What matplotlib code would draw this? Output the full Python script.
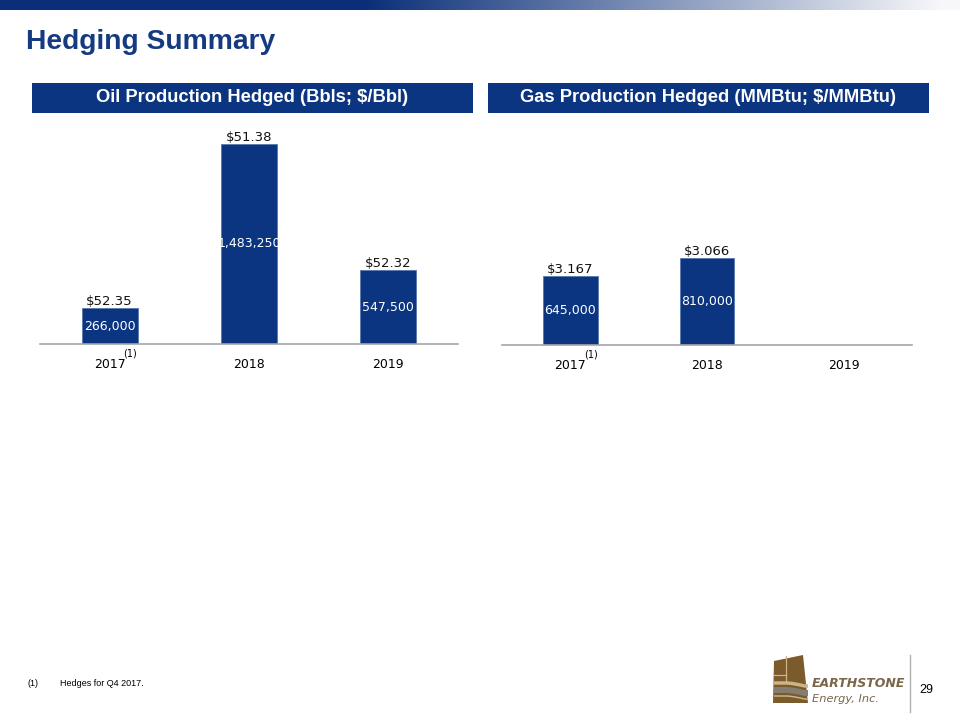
import numpy as np
import matplotlib
matplotlib.use("Agg")
import matplotlib.pyplot as plt
from matplotlib.patches import Rectangle, Polygon
import matplotlib.colors as mcolors

# ---- data ----
years = ["2017", "2018", "2019"]
oil_volumes = [266000, 1483250, 547500]
oil_prices = ["$52.35", "$51.38", "$52.32"]
gas_volumes = [645000, 810000, 0]
gas_prices = ["$3.167", "$3.066", ""]
oil_title = "Oil Production Hedged (Bbls; $/Bbl)"
gas_title = "Gas Production Hedged (MMBtu; $/MMBtu)"
page_title = "Hedging Summary"
footnote = "Hedges for Q4 2017."

W, H = 960, 720
NAVY = "#0b3580"
TITLE_BLUE = "#163a82"

fig = plt.figure(figsize=(W / 100, H / 100), dpi=100)
fig.patch.set_facecolor("white")


def fx(x):
    return x / W


def fy(y):
    return 1 - y / H


def box(x0, y0, x1, y1):
    return [fx(x0), fy(y1), fx(x1) - fx(x0), fy(y0) - fy(y1)]


# ---- top gradient band ----
gax = fig.add_axes(box(0, 0, 960, 10))
xs = np.linspace(0, 1, 960)
t = np.clip((xs - 0.38) / 0.6, 0, 1)
c0 = np.array(mcolors.to_rgb("#0a2f78"))
c1 = np.array([0.97, 0.97, 0.98])
grad = (1 - t)[:, None] * c0 + t[:, None] * c1
gax.imshow(grad[None, :, :], aspect="auto", extent=[0, 1, 0, 1])
gax.axis("off")

# ---- page title ----
fig.text(fx(26), fy(42), page_title, fontsize=20.3, fontweight="bold",
         color=TITLE_BLUE, family="Liberation Sans", ha="left", va="center")

# ---- header boxes ----
for (x0, x1), txt, fs in [((32, 473), oil_title, 13.2), ((488, 929), gas_title, 13.2)]:
    fig.patches.append(Rectangle((fx(x0), fy(113)), fx(x1) - fx(x0), fy(83) - fy(113),
                                 transform=fig.transFigure, facecolor=NAVY,
                                 edgecolor="none"))
    fig.text(fx((x0 + x1) / 2), fy(98), txt, fontsize=fs, fontweight="bold",
             color="white", family="Liberation Sans", ha="center", va="center")


def bar_chart(rect, vols, prices, ymax):
    ax = fig.add_axes(rect)
    xpos = np.arange(len(years))
    bars = ax.bar(xpos, vols, width=0.4, color=NAVY, edgecolor="#5a78b0",
                  linewidth=0.6)
    ax.set_xlim(-0.5, len(years) - 0.5)
    ax.set_ylim(0, ymax)
    for s in ["top", "right", "left"]:
        ax.spines[s].set_visible(False)
    ax.spines["bottom"].set_color("#a6a6a6")
    ax.spines["bottom"].set_linewidth(1.2)
    ax.set_yticks([])
    ax.set_xticks(xpos)
    ax.set_xticklabels(years, fontsize=9, family="DejaVu Sans")
    ax.tick_params(axis="x", length=0, pad=10)
    for b, v, p in zip(bars, vols, prices):
        cx = b.get_x() + b.get_width() / 2
        if v > 0:
            ax.text(cx, v, p, ha="center", va="bottom", fontsize=9.5,
                    family="DejaVu Sans", color="#111111")
            ax.text(cx, v / 2, f"{v:,}", ha="center", va="center", fontsize=9,
                    family="DejaVu Sans", color="white")
    # superscript footnote marker on first category
    ax.annotate("(1)", xy=(0, 0), xycoords=("data", "axes fraction"),
                xytext=(10, -7), textcoords="offset points", fontsize=7,
                ha="left", va="center", family="DejaVu Sans")
    return ax


# oil: baseline y=344, top at 130 -> 214 px ; 1,483,250 -> 200 px
bar_chart(box(40, 130, 458, 344), oil_volumes, oil_prices, 1483250 * 214 / 200)
# gas: baseline y=345, 810,000 -> 87 px
bar_chart(box(502, 130, 912, 345), gas_volumes, gas_prices, 810000 * 215 / 87)

# ---- footnote ----
fig.text(fx(28), fy(683), "(1)", fontsize=6.5, family="Liberation Sans",
         ha="left", va="center")
fig.text(fx(60), fy(683), footnote, fontsize=6.5, family="Liberation Sans",
         ha="left", va="center")

# ---- logo ----
BROWN = "#7b5a2c"
TAN = "#cbb38a"
GREY = "#857d70"
lax = fig.add_axes(box(770, 650, 910, 712))
lax.set_xlim(770, 910)
lax.set_ylim(712, 650)
lax.axis("off")
lax.add_patch(Polygon([(774, 661), (803, 655), (808, 703), (773, 703)],
                      closed=True, facecolor=BROWN, edgecolor="none"))
xx = np.linspace(773.5, 807.5, 40)
for off, col, th in [(682.5, TAN, 3.5), (689.5, GREY, 6.0), (695.5, TAN, 1.5)]:
    yy = off + 3.0 * np.clip((xx - 786) / 18, 0, 1) ** 1.5
    lax.fill_between(xx, yy - th / 2, yy + th / 2, color=col, linewidth=0)
lax.plot([786, 786], [656, 681], color=TAN, lw=0.9)
lax.plot([774, 786], [675.5, 675.5], color=TAN, lw=0.9)
lax.text(812, 684, "EARTHSTONE", fontsize=9, fontweight="bold", style="italic",
         color="#7a6648", family="DejaVu Sans", ha="left", va="center")
lax.text(812, 699, "Energy, Inc.", fontsize=8.2, style="italic",
         color="#7a6648", family="DejaVu Sans", ha="left", va="center")

fig.lines.append(plt.Line2D([fx(910), fx(910)], [fy(655), fy(712)],
                            transform=fig.transFigure, color="#b0b0b0", lw=1))
fig.text(fx(926), fy(690), "29", fontsize=9, family="Liberation Sans",
         ha="center", va="center")

fig.savefig("out.png", dpi=100, facecolor="white")
